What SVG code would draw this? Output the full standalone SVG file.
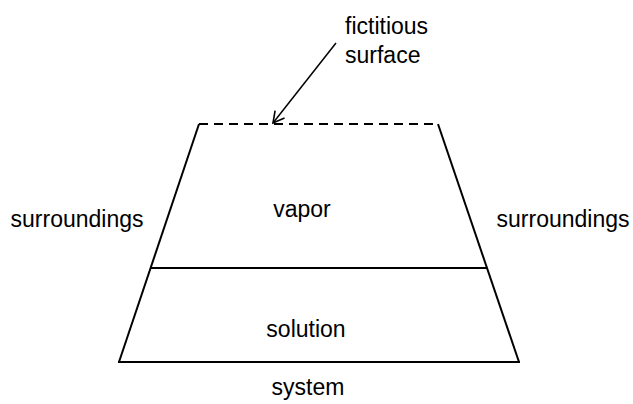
<svg xmlns="http://www.w3.org/2000/svg" width="633" height="404" viewBox="0 0 633 404">
<style>
.ln{stroke:#000;stroke-width:2;fill:none;stroke-linecap:butt}
.t{font-family:"Liberation Sans",Arial,sans-serif;font-size:23px;fill:#000}
</style>
<defs>
<marker id="ah" markerWidth="14" markerHeight="14" refX="12" refY="7" orient="auto" markerUnits="userSpaceOnUse">
<path d="M1,1 L12,7 L1,13" fill="none" stroke="#000" stroke-width="1.6"/>
</marker>
</defs>
<rect width="633" height="404" fill="#fff"/>
<g id="system">
<line class="ln" x1="199" y1="124" x2="438" y2="124" stroke-dasharray="9,6"/>
<line class="ln" x1="199" y1="124" x2="119" y2="362"/>
<line class="ln" x1="438" y1="124" x2="519" y2="362"/>
<line class="ln" x1="118" y1="362" x2="520" y2="362"/>
<text class="t" x="308" y="395" text-anchor="middle">system</text>
</g>
<g id="vapor">
<text class="t" x="302" y="217" text-anchor="middle">vapor</text>
</g>
<g id="interface">
<line class="ln" x1="150" y1="268" x2="487" y2="268"/>
</g>
<g id="solution">
<text class="t" x="306" y="337" text-anchor="middle">solution</text>
</g>
<g id="surroundings-left">
<text class="t" x="77" y="227" text-anchor="middle">surroundings</text>
</g>
<g id="surroundings-right">
<text class="t" x="563" y="227" text-anchor="middle">surroundings</text>
</g>
<g id="fictitious-surface">
<text class="t" x="345" y="34">fictitious</text>
<text class="t" x="345" y="63">surface</text>
</g>
<g id="connectors">
<line x1="336" y1="43" x2="273" y2="123" stroke="#000" stroke-width="1.5" marker-end="url(#ah)"/>
</g>
</svg>
